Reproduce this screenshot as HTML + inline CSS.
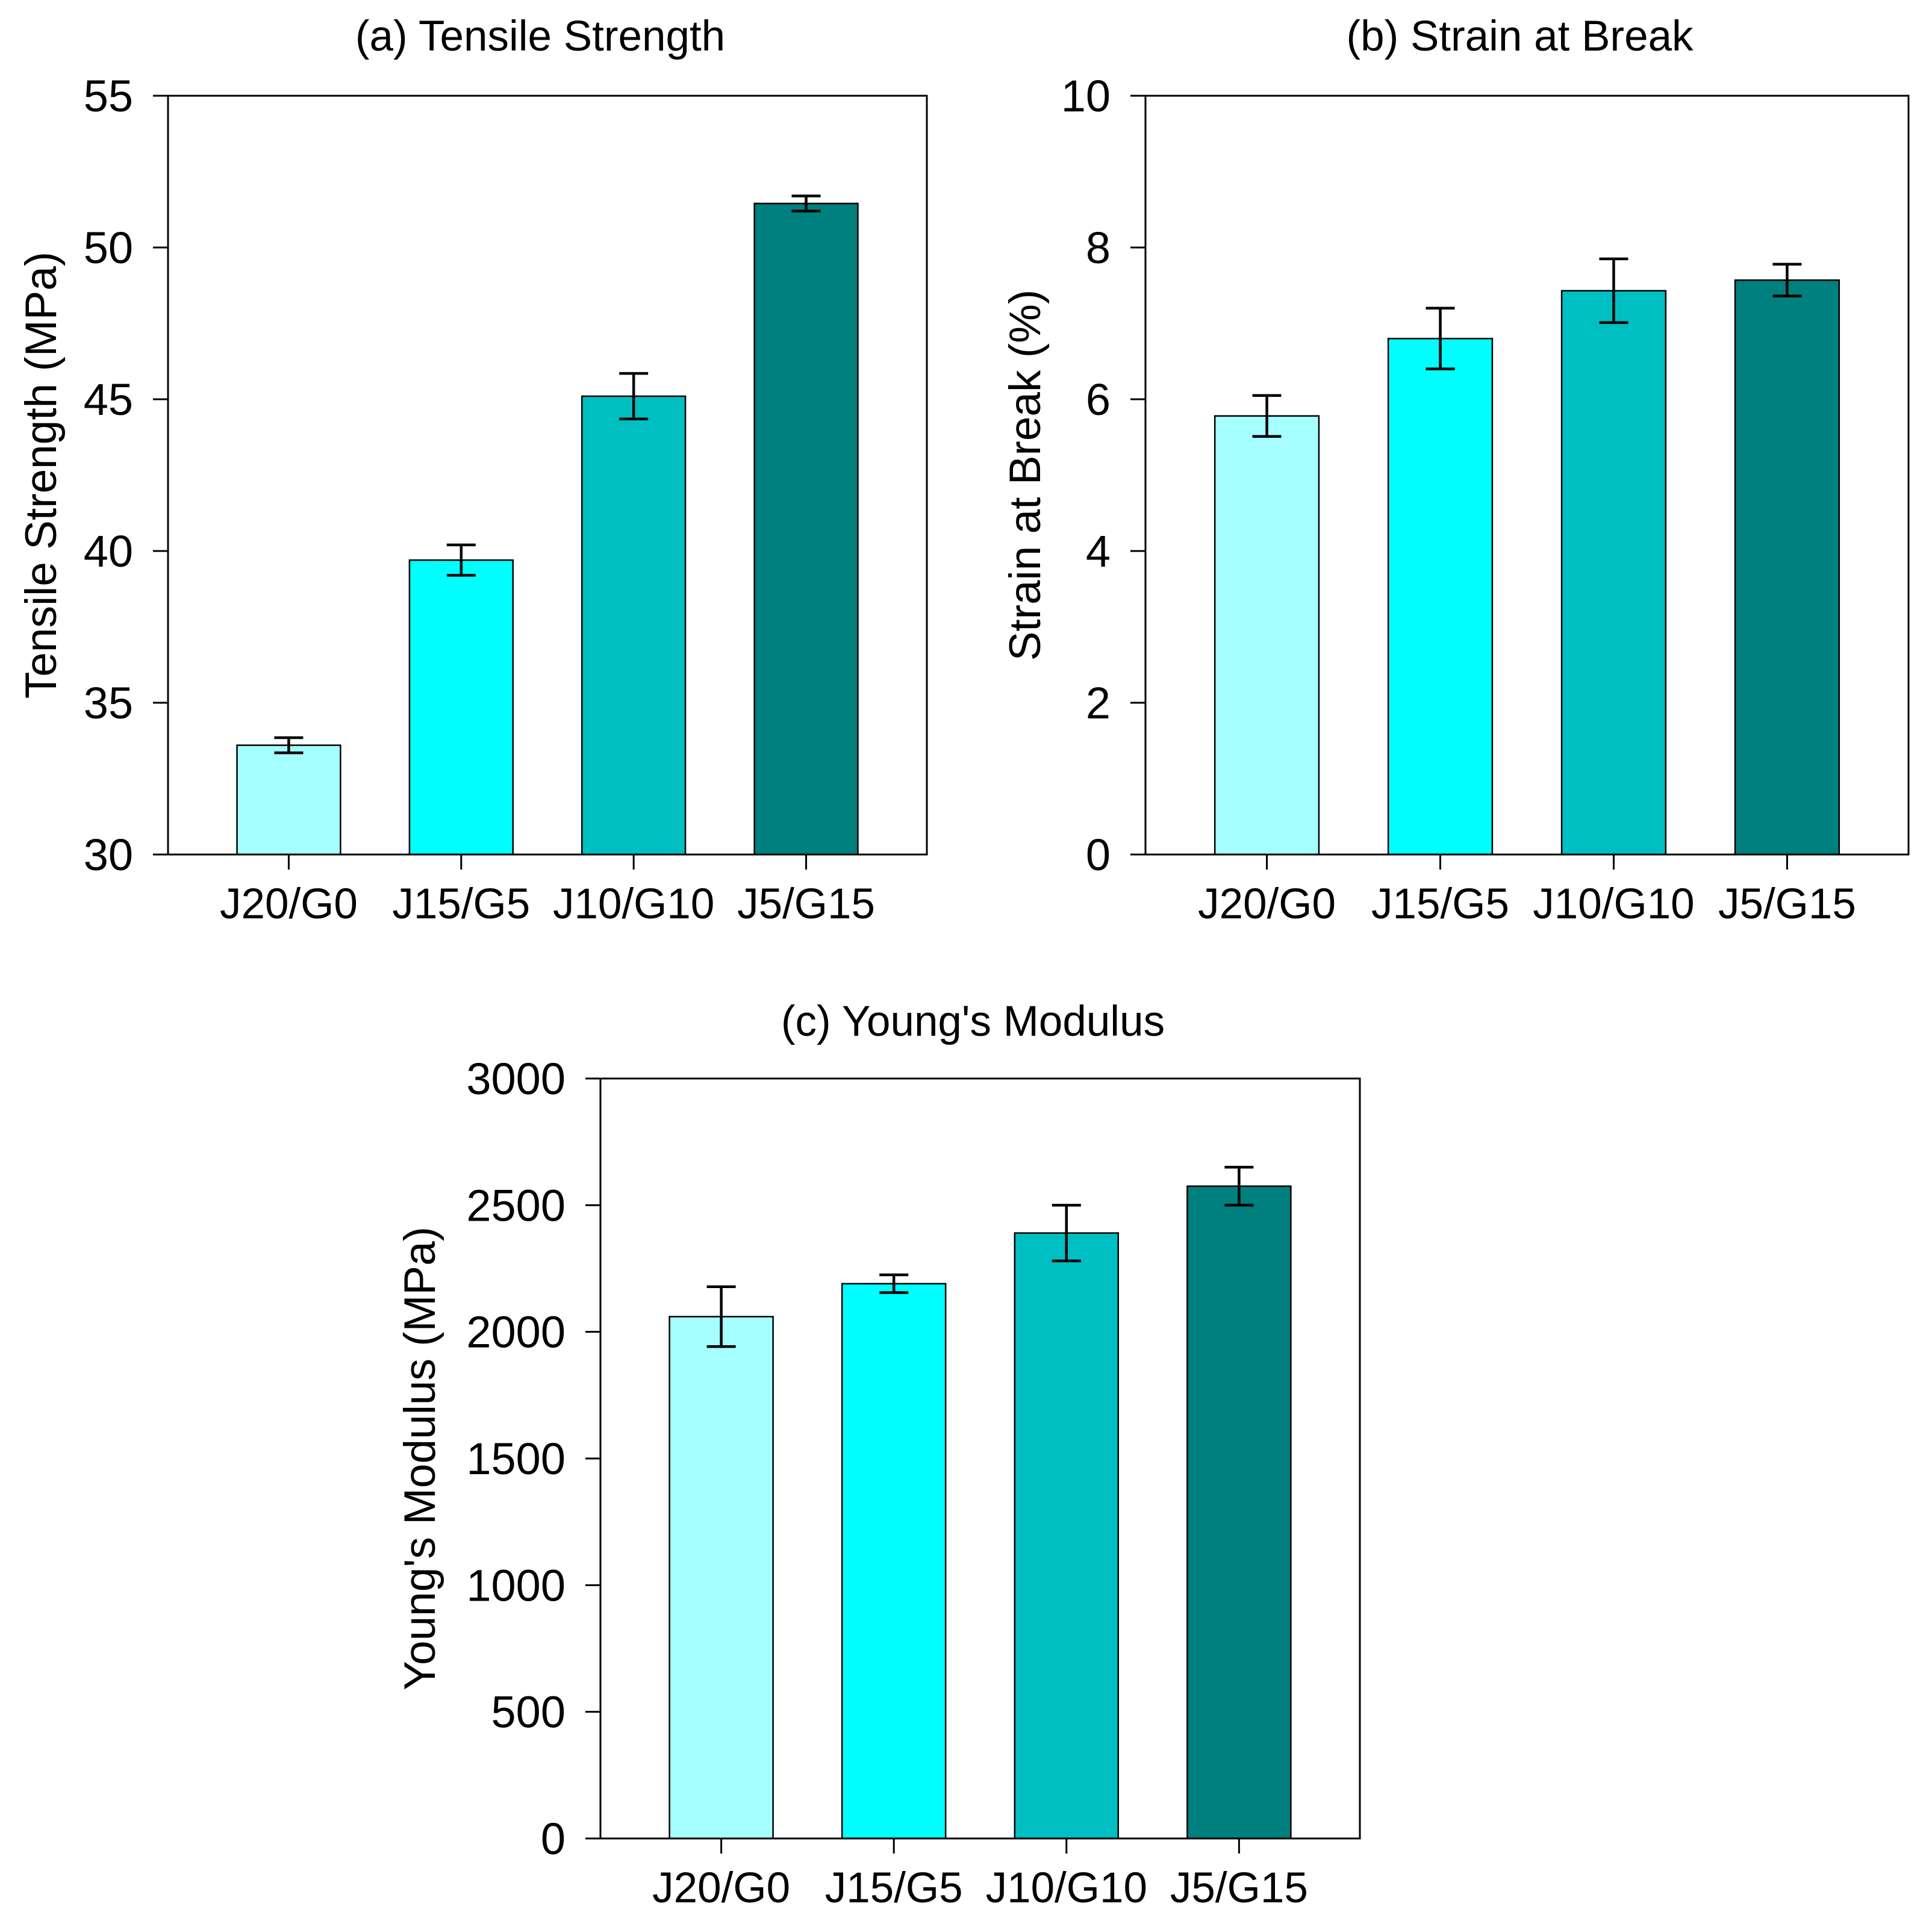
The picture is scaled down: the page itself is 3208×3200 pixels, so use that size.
<!DOCTYPE html>
<html><head><meta charset="utf-8"><style>
html,body{margin:0;padding:0;background:#fff}
svg text{font-family:"Liberation Sans",Arial,sans-serif;fill:#000}
</style></head><body>
<svg id="fig" width="3208" height="3195" viewBox="0 0 3208 3195" xmlns="http://www.w3.org/2000/svg"></svg>
<script>
const categories = ["J20/G0","J15/G5","J10/G10","J5/G15"];
const barColors = ["#a6ffff","#00ffff","#00bfc2","#007f7f"];
const tensileValues = [33.6, 39.7, 45.1, 51.45];
const tensileErrors = [0.25, 0.5, 0.75, 0.25];
const tensileTicks = [30,35,40,45,50,55];
const strainValues = [5.78, 6.8, 7.43, 7.57];
const strainErrors = [0.27, 0.4, 0.42, 0.21];
const strainTicks = [0,2,4,6,8,10];
const modulusValues = [2060, 2190, 2390, 2575];
const modulusErrors = [118, 35, 110, 75];
const modulusTicks = [0,500,1000,1500,2000,2500,3000];

const NS="http://www.w3.org/2000/svg";
const svg=document.getElementById('fig');
function mk(tag,attrs,parent){const e=document.createElementNS(NS,tag);for(const k in attrs)e.setAttribute(k,attrs[k]);(parent||svg).appendChild(e);return e;}

function panel(id,L,R,T,B,ticks,values,errors,title,ytitle,titleY,ytitleX,labelsY){
  const g=mk('g',{});
  
  
  const y0=ticks[0],y1=ticks[ticks.length-1];
  const ys=v=>B-(v-y0)/(y1-y0)*(B-T);
  const xs=i=>L+(i+0.7)/4.4*(R-L);
  const bw=0.6/4.4*(R-L);
  values.forEach((v,i)=>{
    const r=mk('rect',{x:xs(i)-bw/2,y:ys(v),width:bw,height:B-ys(v),fill:barColors[i],stroke:'#000','stroke-width':2.5},g);
    
    
    const e=errors[i],cx=xs(i),cw=24;
    const eb=mk('path',{d:`M${cx},${ys(v+e)}V${ys(v-e)}M${cx-cw},${ys(v+e)}H${cx+cw}M${cx-cw},${ys(v-e)}H${cx+cw}`,stroke:'#000','stroke-width':4.5,fill:'none'},g);
    
    
  });
  const fr=mk('rect',{x:L,y:T,width:R-L,height:B-T,fill:'none',stroke:'#000','stroke-width':3},g);
  
  
  ticks.forEach(t=>{
    mk('line',{x1:L-25,x2:L,y1:ys(t),y2:ys(t),stroke:'#000','stroke-width':3},g);
    const tx=mk('text',{x:L-58,y:ys(t)+26,'text-anchor':'end','font-size':74},g);
    tx.textContent=t;
    
    
  });
  categories.forEach((c,i)=>{
    mk('line',{x1:xs(i),x2:xs(i),y1:B,y2:B+25,stroke:'#000','stroke-width':3},g);
    const tx=mk('text',{x:xs(i),y:labelsY,'text-anchor':'middle','font-size':71},g);
    tx.textContent=c;
    
    
  });
  const tt=mk('text',{x:(L+R)/2-12,y:titleY,'text-anchor':'middle','font-size':71},g);
  tt.textContent=title;
  
  
  const yt=mk('text',{x:ytitleX,y:(T+B)/2,'text-anchor':'middle','font-size':73,transform:`rotate(-90 ${ytitleX} ${(T+B)/2})`},g);
  yt.textContent=ytitle;
  
  
}
panel('tensile',279,1539,159,1419,tensileTicks,tensileValues,tensileErrors,'(a) Tensile Strength','Tensile Strength (MPa)',84,93,1525);
panel('strain',1902,3169,159,1419,strainTicks,strainValues,strainErrors,'(b) Strain at Break','Strain at Break (%)',84,1727,1525);
panel('modulus',997,2258,1791,3053,modulusTicks,modulusValues,modulusErrors,"(c) Young's Modulus","Young's Modulus (MPa)",1720,722,3159);
</script>
</body></html>
